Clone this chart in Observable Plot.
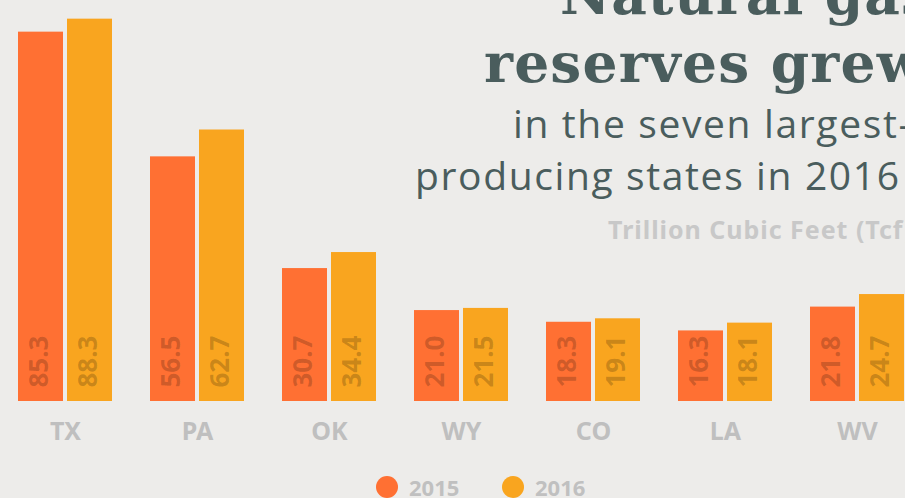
<!DOCTYPE html>
<html>
<head>
<meta charset="utf-8">
<script src="https://cdn.jsdelivr.net/npm/d3@7"></script>
<script src="https://cdn.jsdelivr.net/npm/@observablehq/plot@0.6"></script>
<style>
  html, body { margin: 0; padding: 0; background: #EDECEA; }
  #wrap { position: relative; width: 905px; height: 498px; overflow: hidden; background: #EDECEA; }
  #chart, #overlay { position: absolute; left: 0; top: 0; }
  #overlay { pointer-events: none; }
</style>
</head>
<body>
<div id="wrap">
  <div id="chart"></div>
  <svg id="overlay" width="905" height="498" xmlns="http://www.w3.org/2000/svg">
    <g font-family="'DejaVu Serif', serif" font-weight="bold" font-size="55" fill="#4A5D5D">
      <text x="560" y="14" textLength="372">Natural gas</text>
      <text x="484" y="82" textLength="440">reserves grew</text>
    </g>
    <g font-family="'Open Sans', Lato, sans-serif" font-size="39" fill="#4A5D5D">
      <text x="513" y="138" textLength="398">in the seven largest-</text>
      <text x="415" y="190" textLength="484">producing states in 2016</text>
    </g>
    <text x="608" y="239" font-family="'Noto Sans', sans-serif" font-weight="bold" font-size="25" fill="#C8C8C8" textLength="305">Trillion Cubic Feet (Tcf)</text>
    <g id="legend" font-family="'Noto Sans', sans-serif" font-weight="bold" font-size="22" fill="#C0C0C0"></g>
  </svg>
</div>
<script>
const states = ["TX", "PA", "OK", "WY", "CO", "LA", "WV"];
const years = ["2015", "2016"];
const values2015 = [85.3, 56.5, 30.7, 21.0, 18.3, 16.3, 21.8];
const values2016 = [88.3, 62.7, 34.4, 21.5, 19.1, 18.1, 24.7];
const colors = ["#FF7033", "#F9A51F"];

const d15 = states.map((s, i) => ({state: s, year: years[0], value: values2015[i]}));
const d16 = states.map((s, i) => ({state: s, year: years[1], value: values2016[i]}));

const labelStyle = {
  rotate: -90,
  textAnchor: "start",
  fontSize: 26,
  fontWeight: "bold",
  fontFamily: "'Noto Sans', sans-serif",
  fill: "black",
  fillOpacity: 0.2,
  dy: -14
};

const chart = Plot.plot({
  width: 905,
  height: 498,
  marginTop: 0,
  marginLeft: 0,
  marginRight: 0,
  marginBottom: 97,
  style: {background: "transparent", overflow: "visible"},
  x: {domain: states, range: [17, 905], paddingInner: 0.29, paddingOuter: 0, label: null},
  y: {domain: [0, 90], range: [401, 401 - 90 * 4.33], axis: null},
  marks: [
    Plot.barY(d15, {x: "state", y: "value", fill: colors[0], insetRight: 49}),
    Plot.barY(d16, {x: "state", y: "value", fill: colors[1], insetLeft: 49}),
    Plot.text(d15, {x: "state", y: () => 0, text: d => d.value.toFixed(1), dx: -25.5, ...labelStyle}),
    Plot.text(d16, {x: "state", y: () => 0, text: d => d.value.toFixed(1), dx: 23.5, ...labelStyle}),
    Plot.axisX({
      tickSize: 0,
      tickPadding: 21,
      fontSize: 25,
      fontWeight: "bold",
      fontFamily: "'Noto Sans', sans-serif",
      fill: "#BFBFBF",
      label: null
    })
  ]
});
document.getElementById("chart").appendChild(chart);

// legend
const lg = d3.select("#legend");
const legendX = [387, 513];
years.forEach((y, i) => {
  lg.append("circle").attr("cx", legendX[i]).attr("cy", 487).attr("r", 11).attr("fill", colors[i]);
  lg.append("text").attr("x", legendX[i] + 22).attr("y", 496).text(y);
});
</script>
</body>
</html>
